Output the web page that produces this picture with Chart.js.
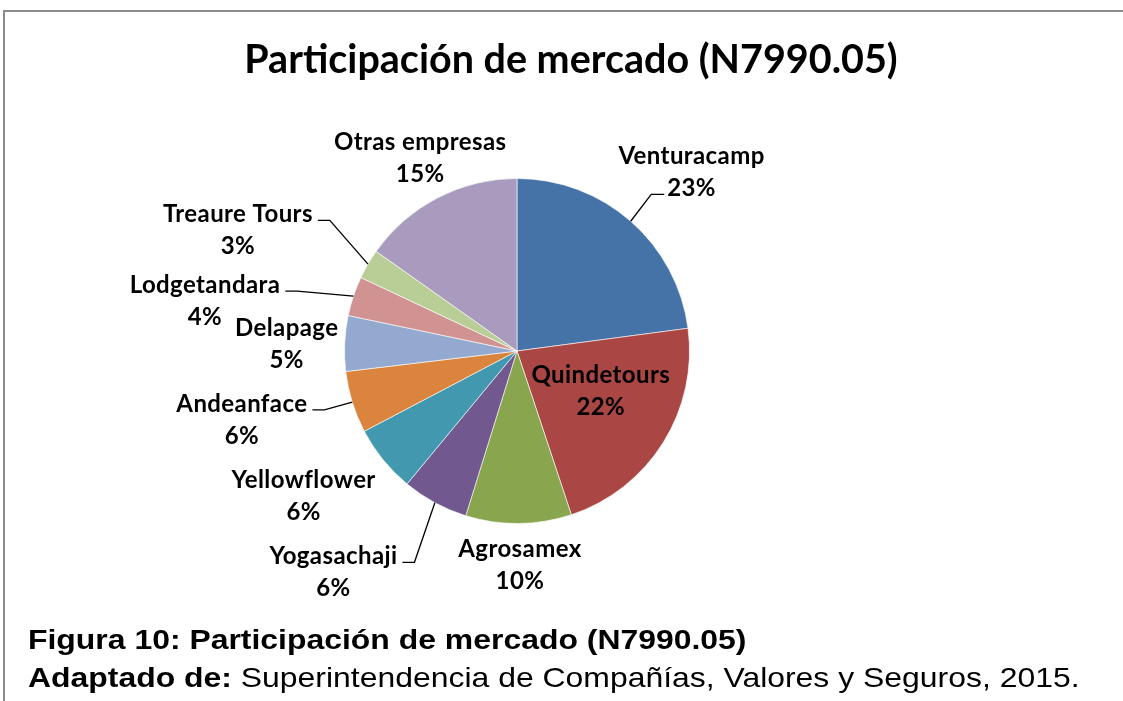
<!DOCTYPE html>
<html>
<head>
<meta charset="utf-8">
<script src="https://cdn.jsdelivr.net/npm/chart.js@4.4.1/dist/chart.umd.min.js"></script>
<style>
  body { margin: 0; background: #fff; width: 1123px; height: 701px; overflow: hidden; position: relative; }
  #frame { position: absolute; left: 3px; top: 10px; width: 1130px; height: 700px;
           border-top: 2px solid #8c8c8c; border-left: 2px solid #8c8c8c; }
  #title { position: absolute; left: 0; width: 1142px; top: 34px; text-align: center;
           font: bold 39.5px Lato, sans-serif; color: #000; }
  #chart { position: absolute; left: 0; top: 0; }
  .caption { position: absolute; left: 28px; font: 28px 'Liberation Sans', Arial, sans-serif; color: #000;
             white-space: nowrap; transform: scaleX(1.14); transform-origin: 0 0; }
  .caption b { font-weight: bold; }
</style>
</head>
<body>
<div id="frame"></div>
<canvas id="chart" width="1123" height="701"></canvas>
<div id="title">Participación de mercado (N7990.05)</div>
<div class="caption" style="top:624px"><b>Figura 10: Participación de mercado (N7990.05)</b></div>
<div class="caption" style="top:662px"><b>Adaptado de:</b> Superintendencia de Compañías, Valores y Seguros, 2015.</div>

<script>
// data (share of market, %)
const companies = ['Venturacamp', 'Quindetours', 'Agrosamex', 'Yogasachaji', 'Yellowflower',
                   'Andeanface', 'Delapage', 'Lodgetandara', 'Treaure Tours', 'Otras empresas'];
const shares = [22.9, 22.0, 9.9, 6.2, 6.3, 5.8, 5.2, 3.7, 2.8, 15.2];
const sliceColors = ['#4572A7', '#AA4643', '#89A54E', '#71588F', '#4198AF',
                     '#DB843D', '#93A9CF', '#D19392', '#B9CD96', '#A99BBD'];

// where each label sits, relative to the pie centre in radius units
const labelLayout = [
  { dx: 1.012, dy: -1.035, leader: 'pctLeft' },
  { dx: 0.486, dy: 0.231 },
  { dx: 0.017, dy: 1.243 },
  { dx: -1.064, dy: 1.283, leader: 'nameRight' },
  { dx: -1.237, dy: 0.844 },
  { dx: -1.595, dy: 0.399, leader: 'nameRight' },
  { dx: -1.335, dy: -0.040 },
  { dx: -1.809, dy: -0.289, leader: 'nameRight' },
  { dx: -1.618, dy: -0.699, leader: 'nameRight' },
  { dx: -0.561, dy: -1.116 }
];

const sliceLabels = {
  id: 'sliceLabels',
  afterDatasetsDraw(chart) {
    const ctx = chart.ctx;
    const meta = chart.getDatasetMeta(0);
    const total = shares.reduce((a, b) => a + b, 0);
    ctx.save();
    ctx.font = 'bold 24px Lato';
    ctx.letterSpacing = '0.4px';
    ctx.fillStyle = '#000';
    ctx.strokeStyle = '#000';
    ctx.lineWidth = 1.3;
    ctx.textAlign = 'center';
    ctx.textBaseline = 'middle';
    meta.data.forEach((arc, i) => {
      const { x, y, startAngle, endAngle, outerRadius: r } =
        arc.getProps(['x', 'y', 'startAngle', 'endAngle', 'outerRadius'], true);
      const pos = labelLayout[i];
      const cx = x + pos.dx * r;
      const cy = y + pos.dy * r;
      const name = companies[i];
      const pct = Math.round(shares[i] / total * 100) + '%';
      const y1 = cy - 16, y2 = cy + 16;
      ctx.fillText(name, cx, y1);
      ctx.fillText(pct, cx, y2);

      if (pos.leader) {
        const mid = (startAngle + endAngle) / 2;
        const ax = x + Math.cos(mid) * r;
        const ay = y + Math.sin(mid) * r;
        const onPct = pos.leader === 'pctLeft';
        const w = ctx.measureText(onPct ? pct : name).width;
        const ly = (onPct ? y2 : y1) + 6;
        let ex, bx;
        if (onPct) { ex = cx - w / 2 - 3; bx = ex - 13; }
        else { ex = cx + w / 2 + 5; bx = ex + 12; }
        ctx.beginPath();
        ctx.moveTo(ex, ly);
        ctx.lineTo(bx, ly);
        ctx.lineTo(ax, ay);
        ctx.stroke();
      }
    });
    ctx.restore();
  }
};

new Chart(document.getElementById('chart'), {
  type: 'pie',
  data: {
    labels: companies,
    datasets: [{
      data: shares,
      backgroundColor: sliceColors,
      borderColor: 'rgba(255,255,255,0.6)',
      borderWidth: 1
    }]
  },
  options: {
    responsive: false,
    animation: false,
    layout: { padding: { left: 344, right: 433, top: 178, bottom: 177 } },
    plugins: {
      legend: { display: false },
      tooltip: { enabled: false }
    }
  },
  plugins: [sliceLabels]
});
</script>
</body>
</html>
